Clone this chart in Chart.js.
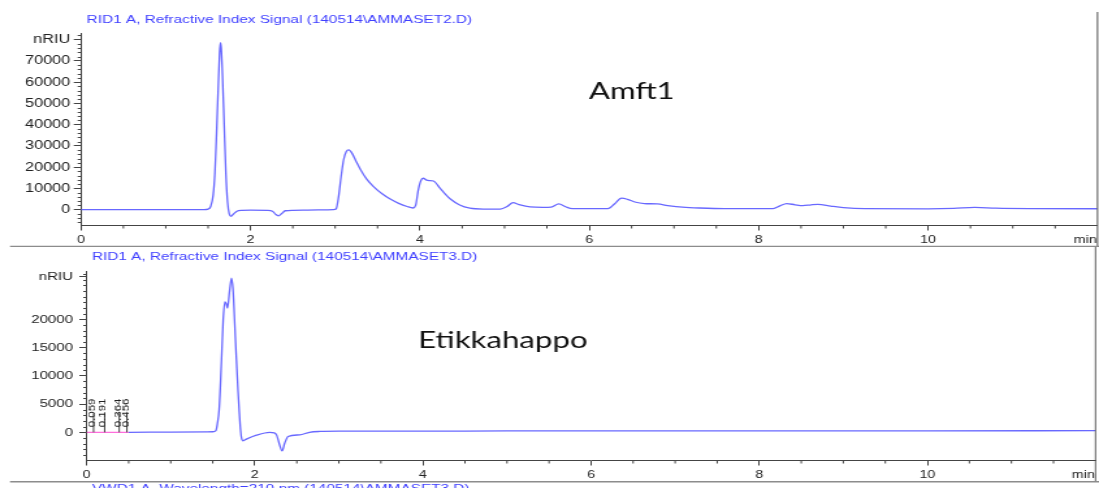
<!DOCTYPE html>
<html>
<head>
<meta charset="utf-8">
<script src="https://cdn.jsdelivr.net/npm/chart.js@4.4.1/dist/chart.umd.min.js"></script>
<style>
  html, body { margin: 0; padding: 0; background: #fff; overflow: hidden; }
  #wrap { position: relative; width: 1099px; height: 488px; }
  #wrap canvas { position: absolute; left: 0; }
</style>
</head>
<body>
<div id="wrap">
  <canvas id="runTop"></canvas>
  <canvas id="runBottom"></canvas>
</div>
<script>
// The report page is rendered narrow and then widened to the page width.
const STRETCH = 1.3;
const CANVAS_W = Math.round(1099 / STRETCH);

// Shared time axis (min)
const xMax = 12;
const xMajorTicks = [0, 2, 4, 6, 8, 10];

// Run 1: Amft1 (RID signal, nRIU)
const topTimes  = [0, 0.5, 1.0, 1.3, 1.45, 1.50, 1.53, 1.56, 1.58, 1.60, 1.62, 1.635, 1.645, 1.655, 1.67, 1.69, 1.71, 1.73, 1.75, 1.77, 1.80, 1.84, 1.90, 2.00, 2.20, 2.26, 2.30, 2.33, 2.37, 2.41, 2.50, 2.80, 2.98, 3.01, 3.04, 3.07, 3.10, 3.13, 3.16, 3.20, 3.25, 3.30, 3.37, 3.45, 3.55, 3.65, 3.75, 3.85, 3.92, 3.95, 3.98, 4.01, 4.04, 4.08, 4.11, 4.16, 4.24, 4.30, 4.36, 4.47, 4.59, 4.75, 4.95, 5.03, 5.10, 5.17, 5.30, 5.45, 5.55, 5.64, 5.72, 5.80, 6.22, 6.30, 6.38, 6.45, 6.55, 6.65, 6.80, 6.95, 7.10, 7.30, 7.60, 8.17, 8.25, 8.33, 8.43, 8.52, 8.62, 8.70, 8.85, 9.00, 9.25, 10.0, 10.3, 10.55, 10.8, 11.2, 12.0];
const topSignal = [0, 50, 0, 0, 50, 300, 1500, 7000, 17000, 36000, 58000, 73000, 78600, 76000, 63000, 40000, 17000, 3500, -2000, -3100, -2000, -700, -300, -200, -300, -700, -2300, -2900, -1800, -500, -300, -100, 0, 300, 6000, 15500, 23500, 27300, 28100, 26500, 22500, 18800, 14500, 11000, 7600, 5000, 3000, 1500, 800, 2000, 9000, 13500, 14800, 13900, 13700, 13500, 10000, 7300, 5000, 2200, 700, 300, 300, 1500, 3300, 2400, 1300, 1100, 1200, 2700, 1400, 500, 500, 2800, 5400, 4900, 3500, 2900, 2700, 1800, 1200, 800, 500, 500, 1800, 2900, 2300, 1900, 2300, 2500, 1700, 1000, 500, 400, 600, 1100, 700, 500, 450];
const topYTicks = [0, 10000, 20000, 30000, 40000, 50000, 60000, 70000, 80000];
const topUnitTick = 80000;

// Run 2: Etikkahappo (RID signal, nRIU)
const bottomTimes  = [0, 0.5, 1.0, 1.5, 1.537, 1.555, 1.576, 1.59, 1.604, 1.624, 1.644, 1.66, 1.675, 1.70, 1.723, 1.74, 1.754, 1.768, 1.782, 1.80, 1.814, 1.83, 1.842, 1.861, 1.90, 2.02, 2.178, 2.23, 2.26, 2.289, 2.325, 2.356, 2.396, 2.534, 2.65, 2.772, 3.0, 4.0, 5.0, 6.0, 8.0, 10.0, 12.0];
const bottomSignal = [0, 0, 50, 100, 300, 1500, 4000, 8000, 12800, 19900, 23100, 22800, 22000, 25000, 27300, 25500, 21700, 17000, 12800, 7500, 4000, 500, -1000, -1500, -1200, -500, 0, -100, -500, -1900, -3300, -1900, -750, -450, 0, 150, 200, 200, 250, 250, 250, 250, 300];
const bottomYTicks = [0, 5000, 10000, 15000, 20000, 27500];
const bottomUnitTick = 27500;

// Integration marks at the start of run 2
const retentionTimes  = [0.059, 0.191, 0.364, 0.456];
const retentionLabels = ['0.059', '0.191', '0.364', '0.456'];
const integratedEnd = 0.5;

const SIGNAL_COLOR = 'rgb(104,104,255)';
const TITLE_COLOR = 'rgb(64,64,255)';
const AXIS_COLOR = '#444';
const LABEL_COLOR = '#222';
const SANS = '"Liberation Sans", Arial, sans-serif';
const NOTE_FONT = 'Lato, "Open Sans", sans-serif';

// Extra drawing on each panel: minor ticks, unit text, titles, notes, frame lines
const panelDecor = {
  id: 'panelDecor',
  afterDraw(chart, args, o) {
    const { ctx, chartArea: a } = chart;
    const x = chart.scales.x, y = chart.scales.y;
    const sx = v => v / STRETCH;
    ctx.save();

    // minor ticks
    ctx.strokeStyle = AXIS_COLOR;
    ctx.lineWidth = 1;
    ctx.beginPath();
    for (let v = 0.5; v < xMax; v += 0.5) {
      if (xMajorTicks.includes(v)) continue;
      const px = x.getPixelForValue(v);
      ctx.moveTo(px, a.bottom);
      ctx.lineTo(px, a.bottom + 3.5);
    }
    for (let v = Math.ceil(o.yMin / o.yMinorStep) * o.yMinorStep; v <= o.yMax; v += o.yMinorStep) {
      if (o.yTicks.includes(v)) continue;
      const py = Math.round(y.getPixelForValue(v)) + 0.5;
      ctx.moveTo(a.left - 2.6, py);
      ctx.lineTo(a.left, py);
    }
    ctx.stroke();

    // right frame line
    ctx.strokeStyle = '#555';
    ctx.beginPath();
    ctx.moveTo(a.right, o.frameTop);
    ctx.lineTo(a.right, o.frameBottom);
    ctx.stroke();

    // separator under the panel
    ctx.strokeStyle = '#8c8c8c';
    ctx.lineWidth = 1.6;
    ctx.beginPath();
    ctx.moveTo(sx(10), o.separatorY);
    ctx.lineTo(chart.width, o.separatorY);
    ctx.stroke();

    // time unit at the end of the axis
    ctx.fillStyle = LABEL_COLOR;
    ctx.font = `11px ${SANS}`;
    ctx.textAlign = 'right';
    ctx.textBaseline = 'middle';
    ctx.fillText('min', a.right - 0.5, a.bottom + 15);

    // signal titles
    ctx.fillStyle = TITLE_COLOR;
    ctx.font = `11.8px ${SANS}`;
    ctx.textAlign = 'left';
    ctx.textBaseline = 'alphabetic';
    for (const t of o.titles) ctx.fillText(t.text, sx(t.x), t.y);

    // sample note
    ctx.fillStyle = '#111';
    ctx.font = `${o.note.size}px ${NOTE_FONT}`;
    ctx.fillText(o.note.text, sx(o.note.x), o.note.y);

    // integration marks
    if (o.marks) {
      const y0 = y.getPixelForValue(0);
      ctx.strokeStyle = '#444';
      ctx.lineWidth = 1;
      ctx.fillStyle = '#222';
      ctx.font = `11.5px ${SANS}`;
      ctx.textAlign = 'left';
      ctx.textBaseline = 'alphabetic';
      o.marks.times.forEach((rt, i) => {
        const px = x.getPixelForValue(rt);
        ctx.beginPath();
        ctx.moveTo(px + 1.5, y0);
        ctx.lineTo(px + 1.5, y0 - 19);
        ctx.stroke();
        ctx.save();
        ctx.translate(px + 2.5, y0 - 5);
        ctx.rotate(-Math.PI / 2);
        ctx.scale(1, 0.7);
        ctx.fillText(o.marks.labels[i], 0, 0);
        ctx.restore();
      });
    }
    ctx.restore();
  }
};

function makePanel(id, p) {
  const canvas = document.getElementById(id);
  canvas.width = CANVAS_W;
  canvas.height = p.height;
  canvas.style.top = p.top + 'px';
  canvas.style.width = '1099px';
  canvas.style.height = p.height + 'px';

  const points = p.times.map((t, i) => ({ x: t, y: p.signal[i] }));
  const dataset = {
    data: points,
    borderColor: SIGNAL_COLOR,
    borderWidth: 1.3,
    pointRadius: 0,
    fill: false,
    cubicInterpolationMode: 'monotone'
  };
  if (p.integratedEnd) {
    dataset.segment = {
      borderColor: c => (c.p0.parsed.x < p.integratedEnd ? 'rgb(255,110,220)' : undefined)
    };
  }

  return new Chart(canvas, {
    type: 'line',
    data: { datasets: [dataset] },
    plugins: [panelDecor],
    options: {
      responsive: false,
      animation: false,
      devicePixelRatio: 1,
      events: [],
      layout: {
        padding: { left: 0, top: p.areaTop, right: CANVAS_W - p.areaRight / STRETCH, bottom: 0 }
      },
      plugins: {
        legend: { display: false },
        title: { display: false },
        tooltip: { enabled: false },
        panelDecor: {
          yMin: p.yMin, yMax: p.yMax, yTicks: p.yTicks, yMinorStep: p.yMinorStep,
          frameTop: p.frameTop, frameBottom: p.frameBottom, separatorY: p.separatorY,
          titles: p.titles, note: p.note, marks: p.marks
        }
      },
      scales: {
        x: {
          type: 'linear',
          min: 0,
          max: xMax,
          afterFit: s => { s.height = p.height - p.areaBottom; },
          afterBuildTicks: s => { s.ticks = xMajorTicks.map(v => ({ value: v })); },
          ticks: {
            autoSkip: false, maxRotation: 0, padding: 3,
            color: LABEL_COLOR, font: { family: SANS, size: 11 },
            callback: v => String(v)
          },
          grid: { drawOnChartArea: false, tickLength: 5.5, color: AXIS_COLOR, lineWidth: 1 },
          border: { color: AXIS_COLOR, width: 1 }
        },
        y: {
          type: 'linear',
          min: p.yMin,
          max: p.yMax,
          afterFit: s => { s.width = p.areaLeft / STRETCH; },
          afterBuildTicks: s => { s.ticks = p.yTicks.map(v => ({ value: v })); },
          ticks: {
            autoSkip: false, padding: p.yPad,
            color: LABEL_COLOR, font: { family: SANS, size: p.yFont },
            callback: v => (v === p.unitTick ? 'nRIU' : String(v))
          },
          grid: { drawOnChartArea: false, tickLength: 5.6, color: AXIS_COLOR, lineWidth: 1 },
          border: { color: AXIS_COLOR, width: 1 }
        }
      }
    }
  });
}

makePanel('runTop', {
  top: 0, height: 247,
  areaTop: 33.7, areaBottom: 225, areaLeft: 81, areaRight: 1097,
  times: topTimes, signal: topSignal,
  yMin: -7200, yMax: 82800, yTicks: topYTicks, unitTick: topUnitTick, yMinorStep: 2000,
  yFont: 12.5, yPad: 2.7,
  frameTop: 12, frameBottom: 247, separatorY: 246.5,
  titles: [{ text: 'RID1 A, Refractive Index Signal (140514\\AMMASET2.D)', x: 86.6, y: 23.3 }],
  note: { text: 'Amft1', x: 588.5, y: 99, size: 24 }
});

makePanel('runBottom', {
  top: 247, height: 241,
  areaTop: 24.3, areaBottom: 213, areaLeft: 86.6, areaRight: 1095,
  times: bottomTimes, signal: bottomSignal, integratedEnd: integratedEnd,
  yMin: -4900, yMax: 28500, yTicks: bottomYTicks, unitTick: bottomUnitTick, yMinorStep: 1000,
  yFont: 11.6, yPad: 4.8,
  frameTop: 0, frameBottom: 234, separatorY: 234.7,
  titles: [
    { text: 'RID1 A, Refractive Index Signal (140514\\AMMASET3.D)', x: 91.9, y: 13 },
    { text: 'VWD1 A, Wavelength=210 nm (140514\\AMMASET3.D)', x: 91.9, y: 245 }
  ],
  note: { text: 'Etikkahappo', x: 418, y: 101.3, size: 24 },
  marks: { times: retentionTimes, labels: retentionLabels }
});
</script>
</body>
</html>
